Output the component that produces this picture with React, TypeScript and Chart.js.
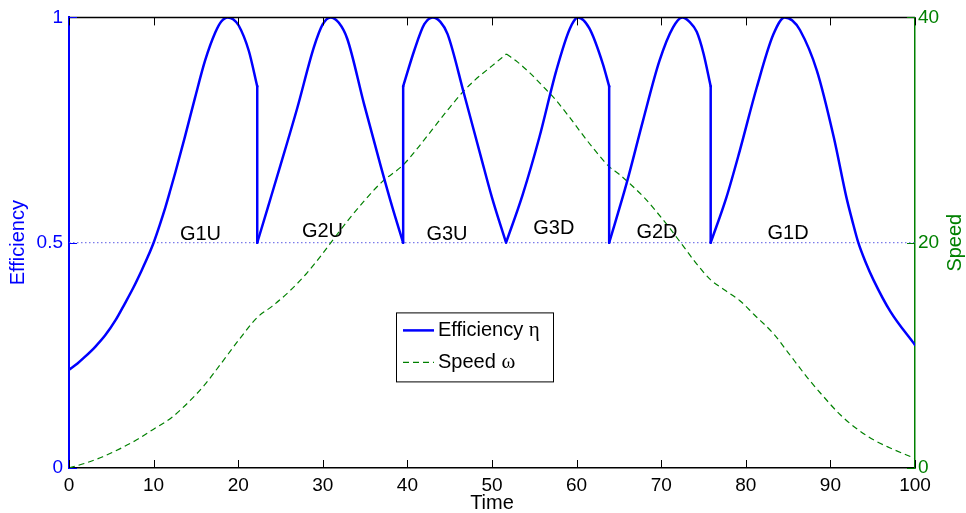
import React, { useEffect, useRef } from 'react';
import { Chart, registerables } from 'chart.js';

Chart.register(...registerables);

// ---- Efficiency (left axis), one array pair per gear phase ----
const g1uTime = [0, 1.0, 1.9, 3.1, 4.3, 5.5, 6.6, 7.6, 8.6, 9.3, 10, 10.7, 11.4, 12.0, 12.6, 13.7, 14.9, 16.1, 17.3, 18.0, 18.76, 19.4, 20.06, 21.25, 22.25];
const g1uEff = [0.218, 0.232, 0.247, 0.269, 0.295, 0.328, 0.365, 0.4, 0.439, 0.468, 0.5, 0.538, 0.579, 0.618, 0.658, 0.735, 0.822, 0.905, 0.967, 0.991, 1.0, 0.996, 0.982, 0.926, 0.847];

const g2uTime = [22.25, 23.5, 25.0, 27.0, 28.95, 30.0, 30.9, 31.9, 32.9, 34.87, 36.85, 38.2, 39.5];
const g2uEff = [0.5, 0.578, 0.672, 0.8, 0.934, 0.985, 1.0, 0.988, 0.952, 0.808, 0.67, 0.58, 0.5];

const g3uTime = [39.5, 40.8, 42.0, 43.0, 43.9, 44.75, 46.7, 48.7, 50.0, 51.66];
const g3uEff = [0.847, 0.926, 0.985, 1.0, 0.99, 0.963, 0.83, 0.69, 0.6, 0.5];

const g3dTime = [51.66, 53.6, 55.6, 57.6, 59.2, 60.15, 61.5, 63.1, 63.85];
const g3dEff = [0.5, 0.605, 0.734, 0.882, 0.975, 1.0, 0.976, 0.897, 0.847];

const g2dTime = [63.85, 65.9, 67.85, 69.8, 71.4, 72.5, 73.35, 74.2, 75.0, 75.85];
const g2dEff = [0.5, 0.631, 0.771, 0.904, 0.978, 1.0, 0.99, 0.968, 0.92, 0.847];

const g1dTime = [75.85, 77.7, 79.3, 81.3, 83.25, 84.6, 85.5, 86.4, 88.4, 90.4, 91.9, 92.6, 93.3, 94.2, 95.1, 97.1, 100];
const g1dEff = [0.5, 0.6, 0.705, 0.845, 0.962, 1.0, 0.993, 0.972, 0.882, 0.734, 0.6, 0.548, 0.5, 0.455, 0.417, 0.347, 0.273];

// ---- Speed (right axis): acceleration phase and deceleration phase ----
const speedUpTime = [0, 2, 4, 6, 8, 10, 12, 14, 16, 18, 20, 22.3, 24, 26, 28, 30, 31, 33, 35, 37, 39.5, 41, 43, 45, 46.7, 48, 50, 51.7];
const speedUpValue = [0, 0.45, 1.0, 1.7, 2.5, 3.45, 4.4, 5.75, 7.35, 9.3, 11.3, 13.4, 14.35, 15.65, 17.2, 19.05, 20.05, 22.0, 23.8, 25.4, 26.9, 28.2, 30.1, 32.0, 33.5, 34.45, 35.7, 36.75];
const speedDownTime = [51.7, 53, 54.5, 56, 57.5, 59, 60.5, 62, 63.85, 65, 66.5, 68, 69.5, 71, 72.5, 74, 75.85, 77.5, 79.3, 81, 83.3, 85, 87.2, 89, 91.2, 93, 95.1, 97, 100];
const speedDownValue = [36.75, 36.05, 35.05, 33.9, 32.7, 31.3, 29.8, 28.35, 26.75, 26.1, 25.1, 24.0, 22.7, 21.3, 19.8, 18.3, 16.7, 15.8, 14.85, 13.6, 11.9, 10.25, 8.1, 6.5, 4.7, 3.55, 2.5, 1.8, 0.85];

// ---- Reference level and gear annotations ----
const refLevel = 0.5;
const gearLabels = ['G1U', 'G2U', 'G3U', 'G3D', 'G2D', 'G1D'];
const gearLabelTime = [15.54, 29.96, 44.68, 57.3, 69.5, 85.0];
const gearLabelEff = [0.519, 0.525, 0.518, 0.531, 0.523, 0.52];

const seriesNames = ['Efficiency \u03b7', 'Speed \u03c9'];
const axisTitles = { x: 'Time', y: 'Efficiency', y1: 'Speed' };

const BLUE = '#0000ff';
const GREEN = '#008000';
const SANS = '"Liberation Sans", Arial, Helvetica, sans-serif';
const SERIF = '"Liberation Serif", "Times New Roman", serif';

type Pt = { x: number; y: number | null };

const effPieces: [number[], number[]][] = [
  [g1uTime, g1uEff],
  [g2uTime, g2uEff],
  [g3uTime, g3uEff],
  [g3dTime, g3dEff],
  [g2dTime, g2dEff],
  [g1dTime, g1dEff],
];

function buildSmooth(pieces: [number[], number[]][]): Pt[] {
  const out: Pt[] = [];
  pieces.forEach(([ts, vs], k) => {
    if (k > 0) out.push({ x: ts[0], y: null });
    ts.forEach((t, i) => out.push({ x: t, y: vs[i] }));
  });
  return out;
}

function buildJumps(pieces: [number[], number[]][]): Pt[] {
  const out: Pt[] = [];
  for (let k = 0; k < pieces.length - 1; k++) {
    const [ta, va] = pieces[k];
    const [tb, vb] = pieces[k + 1];
    const tEnd = ta[ta.length - 1];
    const vEnd = va[va.length - 1];
    if (tEnd === tb[0] && vEnd !== vb[0]) {
      out.push({ x: tEnd, y: vEnd }, { x: tb[0], y: vb[0] }, { x: tb[0], y: null });
    }
  }
  return out;
}

const overlayPlugin = {
  id: 'overlay',
  afterDraw(chart: any) {
    const ctx = chart.ctx as CanvasRenderingContext2D;
    const { left, right, top, bottom } = chart.chartArea;
    const xs = chart.scales.x;
    const ys = chart.scales.y;
    const ys1 = chart.scales.y1;
    ctx.save();

    // top border
    ctx.strokeStyle = '#000';
    ctx.lineWidth = 1.5;
    ctx.beginPath();
    ctx.moveTo(left, top);
    ctx.lineTo(right, top);
    ctx.stroke();

    // inward x ticks (top and bottom)
    ctx.lineWidth = 1;
    xs.ticks.forEach((t: any) => {
      const px = Math.round(xs.getPixelForValue(t.value)) + 0.5;
      ctx.beginPath();
      ctx.moveTo(px, bottom);
      ctx.lineTo(px, bottom - 8);
      ctx.moveTo(px, top);
      ctx.lineTo(px, top + 8);
      ctx.stroke();
    });
    // inward y ticks
    ctx.strokeStyle = BLUE;
    ys.ticks.forEach((t: any) => {
      const py = Math.round(ys.getPixelForValue(t.value)) + 0.5;
      ctx.beginPath();
      ctx.moveTo(left, py);
      ctx.lineTo(left + 8, py);
      ctx.stroke();
    });
    ctx.strokeStyle = GREEN;
    ys1.ticks.forEach((t: any) => {
      const py = Math.round(ys1.getPixelForValue(t.value)) + 0.5;
      ctx.beginPath();
      ctx.moveTo(right, py);
      ctx.lineTo(right - 8, py);
      ctx.stroke();
    });

    // gear labels
    ctx.fillStyle = '#000';
    ctx.font = `20px ${SANS}`;
    ctx.textAlign = 'center';
    ctx.textBaseline = 'middle';
    gearLabels.forEach((g, i) => {
      ctx.fillText(g, xs.getPixelForValue(gearLabelTime[i]), ys.getPixelForValue(gearLabelEff[i]));
    });

    // axis titles
    ctx.font = `20px ${SANS}`;
    ctx.fillStyle = '#000';
    ctx.fillText(axisTitles.x, (left + right) / 2, 503);
    ctx.save();
    ctx.translate(18, (top + bottom) / 2);
    ctx.rotate(-Math.PI / 2);
    ctx.fillStyle = BLUE;
    ctx.fillText(axisTitles.y, 0, 0);
    ctx.restore();
    ctx.save();
    ctx.translate(955, (top + bottom) / 2);
    ctx.rotate(-Math.PI / 2);
    ctx.fillStyle = GREEN;
    ctx.fillText(axisTitles.y1, 0, 0);
    ctx.restore();

    // legend box
    const bx = left + 327;
    const by = top + 295;
    const bw = 157;
    const bh = 69;
    ctx.fillStyle = '#fff';
    ctx.fillRect(bx, by, bw, bh);
    ctx.strokeStyle = '#000';
    ctx.lineWidth = 1;
    ctx.setLineDash([]);
    ctx.strokeRect(bx + 0.5, by + 0.5, bw, bh);
    const ds = chart.data.datasets;
    const rows = [by + 18, by + 50];
    seriesNames.forEach((name, k) => {
      const d = ds.find((x: any) => x.label === name);
      ctx.strokeStyle = d.borderColor;
      ctx.lineWidth = d.borderWidth;
      ctx.setLineDash(d.borderDash || []);
      ctx.beginPath();
      ctx.moveTo(bx + 7, rows[k]);
      ctx.lineTo(bx + 38, rows[k]);
      ctx.stroke();
      ctx.setLineDash([]);
      const main = name.slice(0, -1);
      const greek = name.slice(-1);
      ctx.fillStyle = '#000';
      ctx.textAlign = 'left';
      ctx.textBaseline = 'middle';
      ctx.font = `20px ${SANS}`;
      ctx.fillText(main, bx + 42, rows[k]);
      const w = ctx.measureText(main).width;
      ctx.font = `21px ${SERIF}`;
      ctx.fillText(greek, bx + 42 + w, rows[k]);
    });
    ctx.restore();
  },
};

export default function App() {
  const canvasRef = useRef<HTMLCanvasElement | null>(null);

  useEffect(() => {
    document.body.style.margin = '0';
    const canvas = canvasRef.current;
    if (!canvas) return;
    const speedPts: Pt[] = [
      ...speedUpTime.map((t, i) => ({ x: t, y: speedUpValue[i] })),
      { x: speedDownTime[0], y: null },
      ...speedDownTime.map((t, i) => ({ x: t, y: speedDownValue[i] })),
    ];
    const chart = new Chart(canvas, {
      type: 'line',
      data: {
        datasets: [
          {
            label: seriesNames[0],
            data: buildSmooth(effPieces) as any,
            yAxisID: 'y',
            borderColor: BLUE,
            borderWidth: 2.5,
            borderCapStyle: 'round',
            borderJoinStyle: 'round',
            pointRadius: 0,
            cubicInterpolationMode: 'monotone',
            spanGaps: false,
            fill: false,
          },
          {
            label: 'shift',
            data: buildJumps(effPieces) as any,
            yAxisID: 'y',
            borderColor: BLUE,
            borderWidth: 2.5,
            borderCapStyle: 'round',
            pointRadius: 0,
            tension: 0,
            spanGaps: false,
            fill: false,
          },
          {
            label: seriesNames[1],
            data: speedPts as any,
            yAxisID: 'y1',
            borderColor: GREEN,
            borderWidth: 1.2,
            borderDash: [6, 4],
            pointRadius: 0,
            cubicInterpolationMode: 'monotone',
            spanGaps: false,
            fill: false,
          },
          {
            label: 'ref',
            data: [
              { x: 0, y: refLevel },
              { x: 100, y: refLevel },
            ],
            yAxisID: 'y',
            borderColor: 'rgba(100,100,230,0.85)',
            borderWidth: 1.2,
            borderDash: [1.5, 2.5],
            pointRadius: 0,
            fill: false,
          },
        ],
      },
      options: {
        animation: false,
        responsive: false,
        maintainAspectRatio: false,
        layout: { padding: { top: 17, left: 0, right: 0, bottom: 0 } },
        plugins: {
          legend: { display: false },
          tooltip: { enabled: false },
          title: { display: false },
        },
        scales: {
          x: {
            type: 'linear',
            min: 0,
            max: 100,
            ticks: {
              stepSize: 10,
              color: '#000',
              font: { family: SANS, size: 19 },
              padding: 6,
              maxRotation: 0,
            },
            grid: { display: true, drawOnChartArea: false, drawTicks: false },
            border: { color: '#000', width: 1.5 },
            afterFit: (s: any) => {
              s.height = 45;
            },
          },
          y: {
            type: 'linear',
            position: 'left',
            min: 0,
            max: 1,
            ticks: {
              stepSize: 0.5,
              color: BLUE,
              font: { family: SANS, size: 19 },
              padding: 6,
              callback: (v: any) => String(v),
            },
            grid: { display: true, drawOnChartArea: false, drawTicks: false },
            border: { color: BLUE, width: 2 },
            afterFit: (s: any) => {
              s.width = 69;
            },
          },
          y1: {
            type: 'linear',
            position: 'right',
            min: 0,
            max: 40,
            ticks: {
              stepSize: 20,
              color: GREEN,
              font: { family: SANS, size: 19 },
              padding: 3,
              callback: (v: any) => String(v),
            },
            grid: { display: true, drawOnChartArea: false, drawTicks: false },
            border: { color: GREEN, width: 1.5 },
            afterFit: (s: any) => {
              s.width = 51;
            },
          },
        },
      },
      plugins: [overlayPlugin],
    });
    return () => chart.destroy();
  }, []);

  return (
    <div style={{ position: 'absolute', left: 0, top: 0, width: 966, height: 513, background: '#fff' }}>
      <canvas ref={canvasRef} width={966} height={513} style={{ display: 'block' }} />
    </div>
  );
}
